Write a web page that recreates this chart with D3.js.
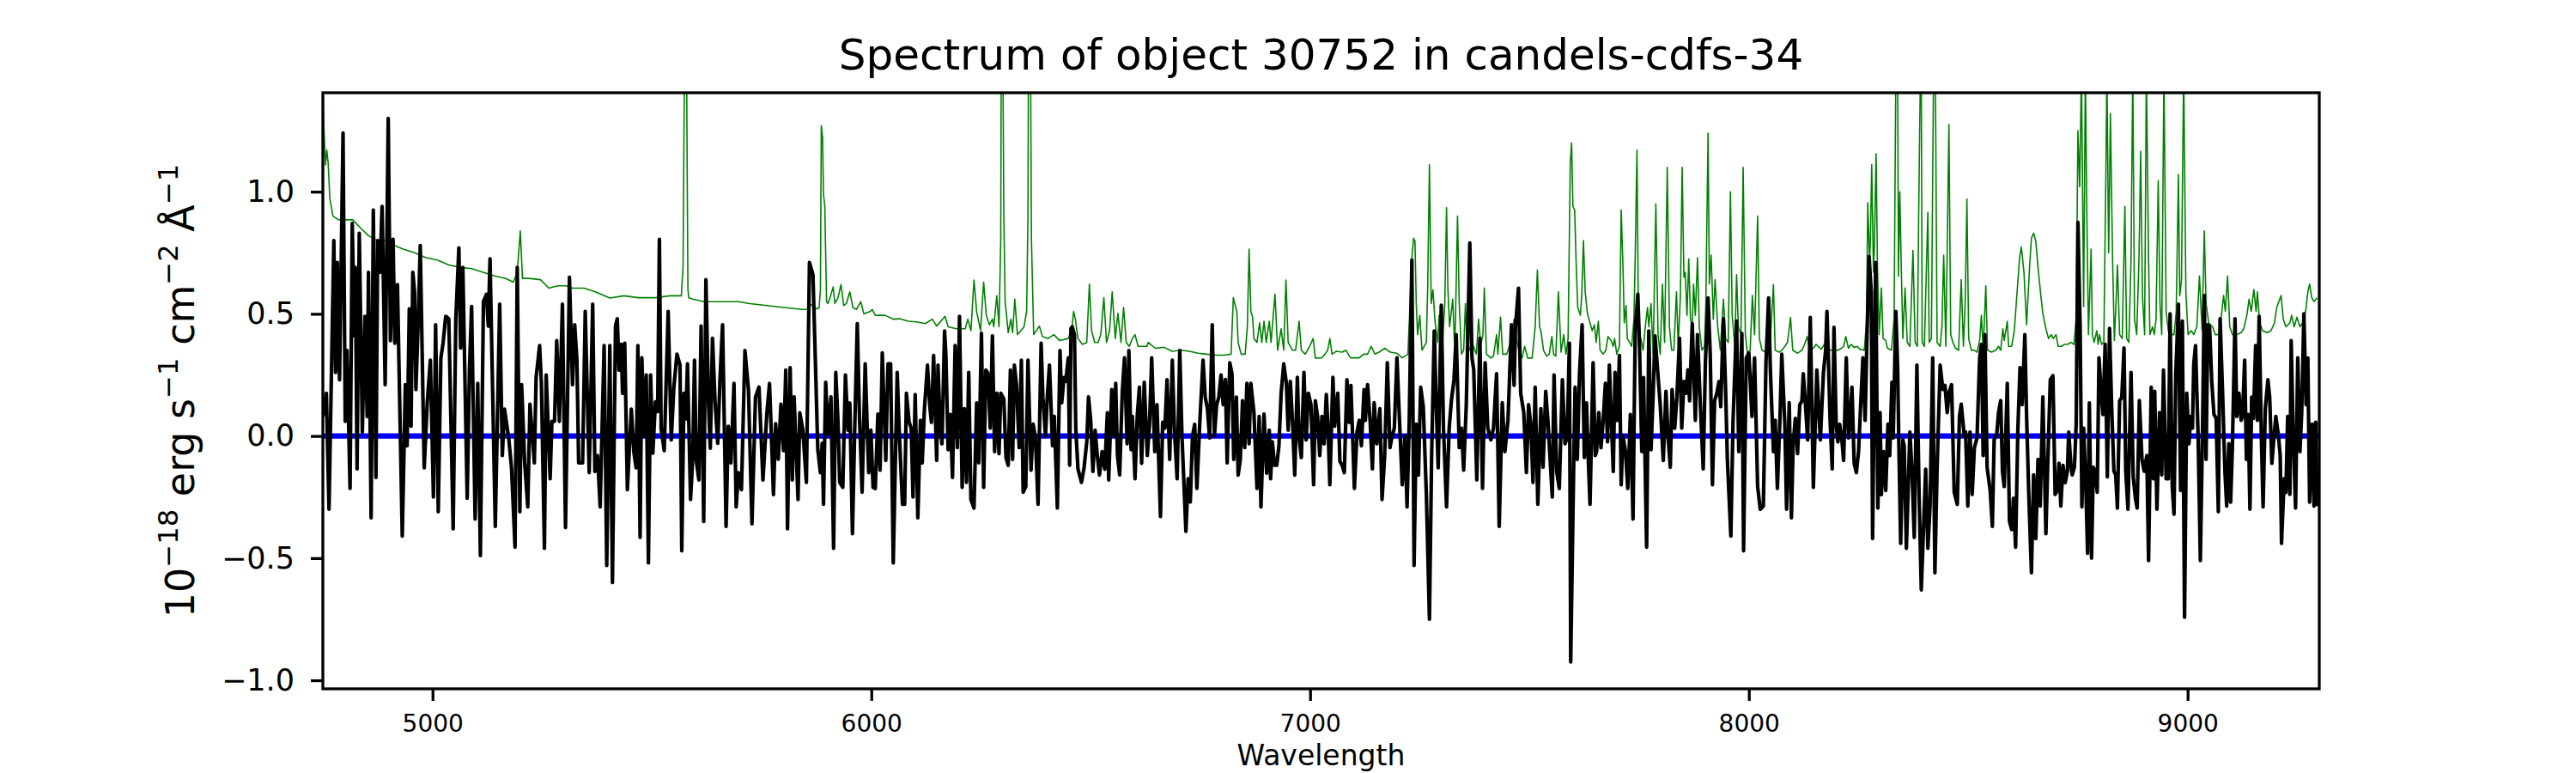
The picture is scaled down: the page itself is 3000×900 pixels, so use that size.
<!DOCTYPE html>
<html><head><meta charset="utf-8">
<script src="https://cdn.jsdelivr.net/npm/d3@7"></script>
<style>html,body{margin:0;padding:0;background:#fff;} svg{display:block;font-family:"DejaVu Sans",sans-serif;}</style>
</head><body><div id="chart"></div>
<script>
// ---------- DATA ----------
const titleText = "Spectrum of object 30752 in candels-cdfs-34";
const xLabelText = "Wavelength";
const yLabelParts = [["10",false],["\u221218",true],[" erg s",false],["\u22121",true],[" cm",false],["\u22122",true],[" \u00C5",false],["\u22121",true]];
const xTicks = [5000, 6000, 7000, 8000, 9000];
const yTicks = [-1.0, -0.5, 0.0, 0.5, 1.0];
const xDomain = [4750, 9300];
const yDomain = [-1.035, 1.405];
const zeroLevel = [[4750, 0], [9300, 0]];

// observed flux [wavelength, flux]
const fluxSeg1 = [[4750,0.08],[4758,0.175],[4764,-0.30],[4775,0.80],[4779,0.26],[4783,0.71],[4788,0.23],[4796,1.24],[4801,0.06],[4805,0.35],
[4812,-0.215],[4817,0.87],[4822,0.41],[4824,0.69],[4828,-0.135],[4833,0.83],[4840,0.016],[4846,0.49],[4851,0.08],[4854,0.67],
[4860,-0.335],[4865,0.925],[4871,-0.17],[4875,0.80],[4880,0.67],[4885,0.94],[4892,0.21],[4899,1.30],[4904,0.39],[4910,0.805],
[4914,0.38],[4920,0.62],[4931,-0.41],[4938,0.21],[4942,-0.04],[4947,0.52],[4951,0.04],[4955,0.67],[4959,0.59],[4962,0.19],
[4967,0.45],[4972,0.78],[4981,-0.13],[4988,0.14],[4995,0.31],[5002,-0.25],[5007,0.455],[5013,-0.31],[5019,0.32],[5024,0.38],
[5030,0.49],[5037,0.48],[5047,-0.38],[5053,0.48],[5060,0.77],[5064,0.36],[5069,0.69],[5079,-0.255],[5084,0.27],[5089,0.53],
[5097,-0.34],[5103,0.215],[5109,-0.49],[5116,0.55],[5123,0.58],[5127,0.45],[5131,0.725],[5143,-0.37],[5153,0.54],[5159,-0.08],
[5164,0.11],[5174,-0.016],[5180,-0.13],[5188,-0.455],[5193,0.69],[5199,-0.31],[5203,0.21],[5210,-0.11],[5217,-0.29],[5222,0.13],
[5232,-0.11],[5236,0.24],[5244,0.37],[5248,0.22],[5255,-0.46],[5259,0.25],[5268,-0.175],[5272,0.06],[5278,0.06],[5283,0.39],
[5289,0.06],[5296,0.54],[5303,-0.375],[5312,0.65]];
const fluxSeg2 = [[5319,0.21],[5324,0.455],[5329,0.31],[5333,-0.11],[5342,-0.11],[5348,0.51],[5357,-0.15],[5365,0.54],[5370,-0.145],[5376,-0.08],
[5382,-0.29],[5391,0.37],[5397,-0.53],[5404,0.37],[5410,-0.60],[5417,0.45],[5421,0.48],[5425,0.27],[5430,0.375],[5433,0.175],
[5438,0.38],[5444,-0.22],[5453,0.11],[5459,-0.07],[5464,-0.13],[5468,0.37],[5473,-0.415],[5477,0.32],[5482,0],[5487,0.25],
[5492,-0.52],[5497,0.25],[5502,-0.07],[5508,0.14],[5513,0.10],[5517,0.805],[5521,0.03],[5528,-0.06],[5537,0.51],[5544,-0.016],
[5550,0.2],[5557,0.335],[5564,0.29],[5568,-0.47],[5573,0.175],[5577,0.07],[5581,0.295],[5588,-0.26],[5593,-0.09],[5597,0.31],
[5601,-0.10],[5607,-0.18],[5612,0.45],[5618,-0.35],[5623,0.64],[5629,0.13],[5633,-0.05],[5638,0.40],[5644,0.135],[5650,-0.03],
[5655,0.23],[5661,0.455],[5669,-0.37],[5674,0.04],[5680,-0.11],[5687,0.215],[5692,-0.29],[5697,-0.15],[5704,-0.22],[5712,0.35],
[5720,0.19],[5728,-0.36],[5736,0.16],[5744,0.2],[5753,-0.18],[5762,0.095],[5768,0.215],[5772,0.016],[5777,-0.24],[5782,0.05],
[5788,-0.095],[5794,0.13],[5800,-0.06],[5805,0.27],[5809,-0.38],[5815,0.28],[5820,-0.18],[5824,0.16],[5833,-0.26],[5837,0.095],
[5844,0.025],[5852,-0.19],[5859,0.71],[5867,0.66],[5872,0.34],[5878,-0.056],[5884,-0.15]];
const fluxSeg3 = [[5888,-0.03],[5891,-0.28],[5896,0.22],[5901,0.008],[5908,0.16],[5914,-0.46],[5919,0.26],[5924,0.06],[5928,-0.19],[5935,-0.21],
[5941,0.25],[5947,0.024],[5951,0.135],[5957,-0.40],[5963,0.096],[5968,0.46],[5973,0.08],[5979,-0.23],[5986,0.295],[5994,-0.15],
[5999,0.024],[6004,-0.21],[6009,-0.215],[6015,0.09],[6020,-0.14],[6025,0.34],[6033,-0.10],[6038,0.295],[6044,0.295],[6050,-0.52],
[6059,0.26],[6064,0],[6071,-0.28],[6076,-0.28],[6080,0.175],[6086,0.06],[6091,0.03],[6095,-0.25],[6100,0.17],[6106,-0.335],
[6112,0.064],[6116,-0.11],[6121,0.11],[6128,0.29],[6133,0.128],[6137,0.056],[6142,0.33],[6149,-0.10],[6152,0.29],[6157,0.032],
[6161,-0.032],[6167,0.43],[6170,0.33],[6175,-0.056],[6180,0.088],[6185,-0.17],[6191,0.37],[6196,-0.048],[6201,0.49],[6207,-0.21],
[6212,0.112],[6217,-0.19],[6222,0.26],[6227,-0.26],[6234,-0.295],[6240,0.135],[6245,-0.11],[6251,0.42],[6256,-0.21],[6261,0.27],
[6266,0.255],[6271,0.032],[6276,0.41],[6281,-0.064],[6286,0.175],[6291,-0.072],[6295,0.175],[6302,0.152],[6307,-0.09],[6312,-0.12],
[6317,0.27],[6322,-0.096],[6326,0.29],[6331,0.207],[6337,-0.048],[6342,0.31],[6346,-0.23],[6352,-0.207],[6357,0.31],[6364,-0.14],
[6369,0.048],[6374,-0.008],[6380,-0.28],[6387,0.38],[6391,0.159],[6397,0],[6401,0.159],[6406,0.29],[6413,-0.04],[6417,0.08],
[6424,-0.295],[6430,0.35],[6434,0.136],[6439,0.239],[6443,0.223],[6449,0.32],[6452,-0.12],[6455,0.44]];
const fluxSeg4 = [[6458,0.447],[6463,0.415],[6466,0.03],[6471,-0.135],[6479,-0.19],[6485,-0.128],[6491,-0.024],[6495,0.16],[6500,0.064],[6505,-0.145],
[6510,0.024],[6515,-0.08],[6520,-0.16],[6526,-0.064],[6532,-0.136],[6538,0.095],[6541,-0.18],[6548,0.19],[6553,0],[6557,0.215],
[6561,-0.08],[6566,-0.159],[6572,0.18],[6577,0.32],[6583,-0.032],[6587,0.35],[6592,-0.056],[6595,0.08],[6601,-0.175],[6606,0.08],
[6611,0.2],[6616,-0.112],[6622,0.22],[6629,-0.08],[6634,0.048],[6639,0.32],[6646,-0.064],[6651,0.128],[6659,-0.33],[6664,0.056],
[6669,0.032],[6674,0.23],[6680,-0.096],[6686,0.31],[6691,0.016],[6697,-0.175],[6703,0.35],[6708,0],[6712,-0.175],[6717,-0.39],
[6722,-0.175],[6727,-0.27],[6732,0],[6737,0.048],[6742,-0.215],[6748,0.032],[6756,0.31],[6761,0.159],[6766,0.112],[6771,-0.008],
[6777,0.455],[6782,0],[6787,0.128],[6792,0.159],[6797,0.25],[6802,0.128],[6807,0.231],[6811,-0.11],[6817,0.30],[6822,0.255],
[6826,-0.096],[6832,0.159],[6836,-0.16],[6841,-0.096],[6846,0.144],[6851,-0.048],[6856,0.215],[6861,-0.032],[6865,0.215],[6872,0.096],
[6879,-0.215],[6884,0.08],[6888,-0.29],[6895,0.09],[6901,-0.152],[6907,0.024],[6910,-0.175],[6914,-0.024],[6919,-0.12],[6924,-0.12],
[6929,-0.04],[6934,0.175],[6940,0.295],[6946,0.215],[6950,0.024],[6955,0.223],[6960,0.056],[6965,-0.16],[6971,0.24],[6975,-0.008],
[6980,-0.088],[6986,0.26],[6991,-0.016],[6996,0.175],[7002,0.128],[7008,-0.2],[7012,0.144],[7017,0.08],[7022,-0.08]];
const fluxSeg5 = [[7027,0.08],[7032,-0.032],[7037,0.17],[7041,0.032],[7045,-0.2],[7052,0.24],[7056,0.04],[7063,0.175],[7068,-0.104],[7073,-0.12],
[7078,-0.15],[7084,0.23],[7089,0.056],[7093,0.207],[7101,-0.215],[7107,0.016],[7112,0.064],[7117,-0.04],[7123,0.19],[7126,0.064],
[7131,0.21],[7137,0.056],[7142,-0.135],[7146,0.136],[7152,-0.032],[7159,0.112],[7164,-0.26],[7170,-0.08],[7176,0.30],[7182,-0.048],
[7187,0],[7192,0.032],[7198,0.32],[7203,0.096],[7210,-0.2],[7216,0],[7221,-0.29],[7226,0.064],[7232,0.72],[7237,-0.53],
[7242,0.048],[7247,-0.16],[7252,0.2],[7258,0.12],[7265,-0.239],[7272,-0.75],[7277,-0.08],[7283,0.43],[7288,0.096],[7292,-0.13],
[7299,0.535],[7304,0.032],[7311,-0.29],[7317,0.032],[7322,0.145],[7328,0.231],[7333,0.415],[7340,-0.048],[7345,0.032],[7350,-0.14],
[7356,0.128],[7364,0.79],[7369,0.319],[7373,0.271],[7380,-0.18],[7387,0.40],[7393,-0.215],[7399,0.30],[7405,0.032],[7412,-0.016],
[7418,0.032],[7425,0.255],[7431,-0.37],[7438,0.136],[7444,-0.064],[7451,0.064],[7459,0.455],[7465,0.207],[7468,0.447],[7475,0.605],
[7480,0.175],[7487,0.096],[7493,-0.15],[7498,0.128],[7503,0.048],[7508,-0.19],[7513,0.2],[7519,-0.28],[7526,0.112],[7531,-0.128],
[7537,0.183],[7542,0.064],[7547,-0.096],[7552,-0.25],[7556,0.25],[7562,-0.144],[7568,-0.215],[7575,0.23],[7581,-0.032],[7586,-0.008],
[7591,0.38],[7594,-0.925]];
const fluxSeg6 = [[7601,-0.096],[7604,0.2],[7609,-0.096],[7614,0.255],[7620,0.455],[7625,-0.088],[7630,0.135],[7634,-0.096],[7638,-0.28],[7645,0.30],
[7650,-0.08],[7653,-0.064],[7658,0.096],[7663,-0.048],[7668,0.064],[7673,0.215],[7678,-0.024],[7682,0.29],[7687,0.048],[7691,-0.145],
[7695,0.26],[7700,0.064],[7705,0.33],[7709,-0.2],[7713,0],[7719,-0.064],[7724,-0.215],[7730,0.088],[7736,-0.34],[7741,0.44],
[7747,0.58],[7751,0.351],[7756,-0.064],[7760,0.239],[7767,-0.455],[7772,0.43],[7777,-0.056],[7782,0.175],[7786,0.41],[7792,0.271],
[7798,0.128],[7805,-0.10],[7811,0.183],[7816,-0.008],[7821,-0.128],[7825,0.19],[7831,0.032],[7836,0.159],[7842,0.40],[7847,0.032],
[7852,0.223],[7857,0.175],[7861,0.271],[7865,0.144],[7871,0.46],[7878,0.064],[7883,0.415],[7889,0.144],[7896,-0.135],[7901,0.303],
[7907,0.565],[7912,0.335],[7917,-0.2],[7922,0.144],[7927,0.175],[7932,0.223],[7936,0.12],[7942,0.48],[7947,0.191],[7951,-0.096],
[7959,-0.41],[7964,0.064],[7972,0.47],[7977,-0.064],[7984,0.42],[7988,-0.47],[7994,0.319],[8000,0.34],[8007,0.08],[8013,0.319],
[8020,-0.207],[8026,-0.30],[8033,-0.287],[8039,0.30],[8045,0.565],[8049,0.271],[8056,-0.064],[8060,0.064],[8065,-0.215],[8071,0.08],
[8075,0.335],[8082,0.048],[8086,-0.30],[8092,0.136],[8097,-0.335],[8101,-0.032],[8106,0.072],[8111,-0.072],[8116,0.128],[8121,0.144],
[8124,0.255],[8129,0.128],[8134,-0.016],[8140,0.485],[8147,-0.21],[8155,0.27],[8160,0.08],[8163,-0.016]];
const fluxSeg7 = [[8165,0.064],[8170,0.26],[8175,0.351],[8178,0.51],[8181,0.335],[8185,0.072],[8190,-0.135],[8194,0.445],[8199,0.048],[8203,-0.024],
[8207,0.048],[8212,-0.016],[8216,-0.10],[8222,0.32],[8227,-0.008],[8230,0.032],[8235,0.2],[8240,-0.112],[8245,-0.15],[8250,-0.064],
[8254,0.096],[8260,0.32],[8265,0.064],[8269,0.39],[8274,0.735],[8279,0.59],[8282,-0.42],[8289,0.71],[8294,-0.295],[8299,0.096],
[8302,-0.24],[8307,-0.064],[8312,-0.223],[8317,0.048],[8321,-0.08],[8326,0.22],[8329,-0.008],[8335,0.51],[8339,0.287],[8342,-0.048],
[8346,-0.44],[8351,-0.016],[8354,-0.04],[8359,-0.46],[8367,0.016],[8372,-0.152],[8377,-0.415],[8383,0.29],[8388,-0.239],[8393,-0.63],
[8398,-0.383],[8403,-0.136],[8408,-0.46],[8413,-0.287],[8419,0.32],[8424,-0.56],[8429,-0.136],[8436,0.29],[8442,0.191],[8447,0.207],
[8452,0.096],[8457,0.183],[8462,0.21],[8468,-0.23],[8475,-0.28],[8480,0.08],[8484,0.13],[8491,0],[8494,0.016],[8499,-0.287],
[8504,0.016],[8509,-0.239],[8514,-0.048],[8520,-0.008],[8526,0.32],[8530,0.375],[8534,-0.08],[8538,0.415],[8543,-0.128],[8550,-0.223],
[8555,-0.37],[8559,-0.016],[8565,0.008],[8569,0.096],[8574,0.145],[8578,-0.144],[8582,-0.207],[8589,0.215],[8594,-0.35],[8599,-0.383],
[8603,-0.255],[8608,-0.455],[8613,0.024],[8618,0.28],[8623,0.128],[8629,0.415],[8633,0.08],[8638,-0.239],[8644,-0.56],[8649,-0.159],
[8654,-0.42],[8659,-0.096],[8664,-0.287],[8670,0.16],[8677,-0.40],[8681,-0.128],[8687,0.23],[8693,0.247],[8698,-0.239],[8703,-0.223],
[8707,-0.112],[8711,-0.287],[8716,-0.12],[8721,-0.191],[8726,-0.144],[8729,0.016],[8734,-0.12]];
const fluxSeg8 = [[8737,-0.159],[8742,-0.128],[8746,0.048],[8750,0.875],[8755,0.447],[8759,-0.29],[8763,0.032],[8768,-0.207],[8772,-0.48],[8776,0.135],
[8781,-0.50],[8785,-0.128],[8789,-0.144],[8794,-0.23],[8798,0.32],[8802,0.207],[8807,0.088],[8812,0.375],[8817,-0.167],[8822,0.44],
[8827,0.112],[8832,-0.144],[8836,-0.159],[8840,-0.295],[8845,0.144],[8850,0.159],[8855,0.36],[8859,-0.144],[8864,-0.30],[8871,0.26],
[8876,-0.167],[8881,-0.255],[8885,-0.295],[8890,0.145],[8896,-0.096],[8901,-0.144],[8907,-0.08],[8911,-0.51],[8917,0.2],[8922,-0.175],
[8925,0.183],[8930,-0.30],[8936,0.096],[8941,-0.159],[8945,0.27],[8951,-0.175],[8956,-0.175],[8960,0.50],[8965,-0.207],[8969,-0.32],
[8973,0.255],[8979,0.54],[8984,-0.223],[8988,0.47],[8993,-0.742],[8998,0.175],[9003,-0.032],[9007,0.08],[9011,0.032],[9014,0.295],
[9018,0.37],[9024,-0.008],[9029,-0.51],[9034,0.032],[9038,0.575],[9042,-0.096],[9046,0.455],[9050,0.447],[9055,0.223],[9060,0.088],
[9065,0.072],[9070,-0.31],[9074,0.48],[9080,0.159],[9085,-0.144],[9089,-0.287],[9094,-0.032],[9098,-0.271],[9102,-0.048],[9108,0.48],
[9112,0.08],[9117,0.175],[9122,0.064],[9125,0.08],[9130,0.31],[9134,-0.096],[9138,0.088],[9142,-0.30],[9146,0.159],[9150,0.072],
[9155,0.37],[9159,0.064],[9163,0.49],[9168,0],[9172,-0.29],[9177,0.112],[9183,0.23],[9187,0.159],[9192,-0.112],[9197,0],
[9201,0.08],[9207,0],[9211,-0.08],[9214,-0.44],[9220,-0.175],[9224,-0.231],[9228,0.08],[9233,-0.239],[9236,0.39],[9241,-0.024],
[9246,-0.295],[9251,0.32],[9256,-0.064],[9260,0.096],[9265,0.50],[9270,0.128],[9274,0.319],[9278,-0.271],[9284,0.048],[9288,-0.287],
[9292,0.056],[9295,-0.287]];

// noise / sky spectrum [wavelength, value]
const skySeg1 = [[4750,1.45],[4752,1.28],[4756,1.11],[4759,1.17],[4762,1.12],[4766,0.97],[4773,0.90],[4786,0.885],[4802,0.885],[4818,0.885],
[4835,0.853],[4854,0.82],[4874,0.80],[4893,0.80],[4913,0.78],[4933,0.765],[4959,0.75],[4985,0.73],[5011,0.72],[5037,0.70],
[5063,0.69],[5089,0.685],[5115,0.67],[5141,0.655],[5167,0.645],[5184,0.63],[5193,0.67],[5200,0.84],[5205,0.645],[5219,0.645],
[5246,0.64],[5265,0.605],[5285,0.615],[5304,0.615]];
const skySeg2 = [[5319,0.605],[5345,0.605],[5371,0.59],[5404,0.565],[5436,0.574],[5469,0.566],[5508,0.566],[5541,0.574],[5567,0.574],[5571,0.70],
[5574,1.5],[5579,1.5],[5582,0.60],[5584,0.566],[5593,0.56],[5619,0.55],[5645,0.55],[5671,0.55],[5697,0.55],[5723,0.542],
[5762,0.534],[5801,0.526],[5841,0.518],[5854,0.518],[5860,0.54],[5876,0.52],[5881,0.525],[5884,0.60],[5886,1.27],[5889,1.22]];
const skySeg3 = [[5891,0.99],[5894,0.94],[5898,0.55],[5901,0.542],[5906,0.566],[5913,0.61],[5917,0.542],[5924,0.566],[5931,0.62],[5937,0.534],
[5943,0.542],[5951,0.59],[5958,0.526],[5966,0.518],[5976,0.55],[5983,0.50],[5998,0.51],[6002,0.518],[6009,0.494],[6031,0.494],
[6051,0.478],[6064,0.48],[6084,0.47],[6103,0.467],[6123,0.46],[6139,0.478],[6149,0.45],[6168,0.49],[6175,0.447],[6194,0.439],
[6214,0.439],[6220,0.478],[6227,0.431],[6234,0.638],[6240,0.51],[6249,0.431],[6256,0.63],[6262,0.494],[6269,0.455],[6276,0.478],
[6279,0.447],[6286,0.574],[6291,0.447],[6295,0.8],[6296,1.5],[6300,1.5],[6302,0.9],[6305,0.55],[6312,0.423],[6318,0.478],
[6322,0.423],[6327,0.56],[6333,0.415],[6341,0.431],[6348,0.447],[6354,0.51],[6357,0.9],[6358,1.5],[6363,1.5],[6365,0.8],
[6370,0.415],[6383,0.45],[6390,0.407],[6403,0.399],[6416,0.415],[6429,0.391],[6449,0.399],[6457,0.44]];
const skySeg4 = [[6461,0.51],[6465,0.478],[6471,0.399],[6481,0.375],[6491,0.383],[6497,0.622],[6502,0.431],[6509,0.383],[6517,0.383],[6523,0.415],
[6530,0.566],[6536,0.383],[6543,0.431],[6549,0.59],[6556,0.399],[6562,0.502],[6569,0.383],[6575,0.526],[6581,0.383],[6588,0.367],
[6595,0.399],[6601,0.415],[6608,0.367],[6628,0.367],[6631,0.383],[6647,0.359],[6667,0.363],[6686,0.347],[6706,0.351],[6725,0.347],
[6745,0.339],[6764,0.335],[6784,0.331],[6804,0.331],[6820,0.335],[6825,0.566],[6833,0.51],[6836,0.383],[6843,0.335],[6852,0.335],
[6857,0.447],[6861,0.765],[6865,0.51],[6869,0.486],[6872,0.399],[6879,0.383],[6885,0.463],[6890,0.383],[6895,0.47],[6900,0.383],
[6907,0.47],[6911,0.383],[6920,0.58],[6926,0.351],[6934,0.439],[6940,0.351],[6945,0.638],[6950,0.383],[6960,0.351],[6967,0.351],
[6975,0.47],[6980,0.351],[6989,0.335],[6999,0.367],[7007,0.399],[7012,0.319],[7027,0.32]];
const skySeg5 = [[7034,0.335],[7040,0.351],[7045,0.399],[7050,0.335],[7060,0.347],[7073,0.343],[7082,0.351],[7092,0.32],[7112,0.32],[7122,0.335],
[7131,0.335],[7139,0.367],[7148,0.335],[7157,0.343],[7170,0.359],[7183,0.343],[7197,0.339],[7210,0.32],[7223,0.335],[7232,0.73],
[7236,0.81],[7239,0.797],[7242,0.542],[7245,0.415],[7250,0.494],[7255,0.351],[7265,0.383],[7268,0.606],[7272,1.11],[7276,0.542],
[7280,0.598],[7285,0.463],[7291,0.383],[7294,0.494],[7301,0.351],[7307,0.542],[7311,0.935],[7314,0.606],[7318,0.447],[7325,0.56],
[7329,0.383],[7331,0.447],[7336,0.90],[7340,0.542],[7345,0.335],[7350,0.351],[7354,0.542],[7358,0.351],[7363,0.351],[7369,0.383],
[7379,0.335],[7384,0.478],[7389,0.375],[7394,0.415],[7397,0.606],[7402,0.335],[7412,0.319],[7418,0.327],[7425,0.415],[7428,0.335],
[7434,0.486],[7439,0.335],[7448,0.335],[7457,0.383],[7465,0.478],[7470,0.399],[7476,0.351],[7483,0.319],[7489,0.367],[7496,0.319],
[7506,0.319],[7513,0.447],[7518,0.68],[7523,0.447],[7526,0.431],[7532,0.351],[7539,0.327],[7545,0.335],[7551,0.407],[7555,0.335],
[7560,0.327],[7566,0.59],[7572,0.343],[7578,0.415],[7583,0.335],[7588,0.399],[7593,1.12],[7596,1.20]];
const skySeg6 = [[7599,0.94],[7603,0.925],[7606,0.73],[7610,0.526],[7616,0.494],[7619,0.574],[7623,0.80],[7627,0.59],[7632,0.502],[7638,0.463],
[7643,0.431],[7648,0.455],[7652,0.383],[7657,0.47],[7661,0.351],[7668,0.335],[7674,0.351],[7679,0.407],[7686,0.391],[7691,0.367],
[7694,0.399],[7699,0.335],[7705,0.367],[7709,0.925],[7713,0.70],[7716,0.463],[7720,0.534],[7723,0.399],[7728,0.383],[7733,0.367],
[7738,0.478],[7741,0.734],[7745,1.17],[7748,0.542],[7752,0.415],[7759,0.351],[7764,0.447],[7769,0.526],[7772,0.447],[7777,0.542],
[7782,0.335],[7788,0.95],[7793,0.415],[7798,0.335],[7803,0.622],[7808,0.383],[7814,1.10],[7819,0.447],[7824,0.351],[7829,0.351],
[7835,0.59],[7839,0.367],[7844,0.574],[7848,1.10],[7852,0.65],[7855,0.67],[7859,0.494],[7863,0.725],[7867,0.478],[7871,0.447],
[7874,0.622],[7878,0.494],[7883,0.73],[7887,0.447],[7893,0.351],[7899,0.367],[7902,0.55],[7907,1.24],[7910,0.622],[7914,0.74],
[7919,0.478],[7923,0.64],[7929,0.447],[7935,0.351],[7942,0.56],[7947,0.399],[7953,0.383],[7958,1.0],[7962,0.494],[7968,0.367],
[7972,0.66],[7976,0.447],[7982,0.415],[7987,1.10],[7992,0.415],[7997,0.335],[8003,0.351],[8008,0.575],[8013,0.415],[8020,0.90],
[8024,0.399],[8030,0.351],[8039,0.343],[8049,0.399],[8056,0.62],[8060,0.351],[8069,0.343],[8075,0.351],[8082,0.367],[8088,0.383],
[8095,0.485],[8100,0.351],[8111,0.339],[8121,0.351],[8127,0.375],[8133,0.407],[8138,0.359],[8147,0.359],[8153,0.375],[8158,0.367],
[8165,0.355]];
const skySeg7 = [[8172,0.375],[8178,0.383],[8185,0.351],[8194,0.351],[8203,0.351],[8211,0.359],[8216,0.367],[8221,0.407],[8227,0.359],[8233,0.375],
[8240,0.363],[8247,0.367],[8253,0.355],[8263,0.351],[8268,0.463],[8271,0.955],[8275,0.718],[8277,0.797],[8280,1.11],[8284,0.67],
[8286,0.766],[8290,1.155],[8293,0.702],[8297,0.415],[8302,0.606],[8306,0.399],[8312,0.391],[8316,0.359],[8325,0.351],[8331,0.478],
[8335,1.5],[8339,1.5],[8341,0.654],[8344,1.0],[8348,0.638],[8351,0.399],[8356,0.606],[8361,0.383],[8367,0.367],[8374,0.76],
[8379,0.383],[8384,0.367],[8387,0.9],[8391,1.5],[8393,1.5],[8395,0.383],[8400,0.367],[8408,0.915],[8411,0.383],[8416,0.399],
[8421,1.5],[8425,1.5],[8429,0.383],[8436,0.367],[8440,0.447],[8444,0.74],[8449,0.367],[8456,1.275],[8460,0.415],[8465,0.383],
[8471,0.359],[8478,0.351],[8484,0.64],[8489,0.367],[8493,0.542],[8497,0.97],[8501,0.399],[8507,0.351],[8514,0.351],[8520,0.343],
[8526,0.391],[8530,0.494],[8534,0.351],[8540,0.615],[8544,0.351],[8553,0.343],[8563,0.351],[8569,0.367],[8574,0.351],[8579,0.439],
[8582,0.391],[8589,0.47],[8592,0.367],[8599,0.367],[8605,0.431],[8612,0.606],[8617,0.73],[8621,0.774],[8627,0.67],[8633,0.455],
[8640,0.70],[8644,0.81],[8649,0.83],[8654,0.797],[8660,0.67],[8666,0.566],[8670,0.502],[8677,0.439],[8683,0.399],[8689,0.415],
[8694,0.399],[8700,0.415],[8705,0.367],[8713,0.367],[8719,0.375],[8726,0.375],[8734,0.383]];
const skySeg8 = [[8741,0.375],[8746,0.478],[8750,1.25],[8754,1.02],[8758,1.5],[8763,0.53],[8767,1.5],[8770,0.95],[8774,0.415],[8780,0.765],
[8783,0.415],[8787,0.383],[8793,0.431],[8796,0.375],[8799,0.415],[8804,0.375],[8809,0.383],[8814,1.12],[8816,1.5],[8820,0.75],
[8824,1.32],[8829,0.72],[8833,0.391],[8836,0.51],[8840,0.70],[8845,0.415],[8851,0.399],[8857,0.94],[8861,0.399],[8866,0.383],
[8871,0.718],[8875,1.5],[8879,0.478],[8884,0.415],[8889,0.718],[8893,1.165],[8897,0.574],[8902,0.415],[8906,1.5],[8911,0.718],
[8914,0.415],[8920,0.447],[8924,0.415],[8928,0.478],[8933,1.045],[8937,0.542],[8941,0.415],[8946,1.5],[8951,0.51],[8956,0.431],
[8961,0.415],[8969,0.415],[8974,0.51],[8979,1.07],[8982,0.574],[8986,0.638],[8991,1.5],[8996,0.59],[9001,0.415],[9008,0.431],
[9014,0.415],[9021,0.447],[9027,0.655],[9033,0.431],[9038,0.84],[9042,0.542],[9048,0.463],[9057,0.447],[9063,0.415],[9070,0.415],
[9076,0.478],[9082,0.575],[9086,0.51],[9091,0.655],[9096,0.447],[9102,0.415],[9112,0.415],[9122,0.423],[9128,0.439],[9135,0.494],
[9140,0.56],[9145,0.51],[9151,0.60],[9156,0.51],[9159,0.59],[9164,0.463],[9171,0.431],[9181,0.423],[9190,0.431],[9198,0.463],
[9203,0.526],[9213,0.575],[9218,0.478],[9224,0.447],[9233,0.463],[9237,0.494],[9243,0.447],[9249,0.486],[9256,0.447],[9262,0.463],
[9269,0.51],[9274,0.59],[9278,0.622],[9283,0.566],[9288,0.55],[9295,0.566]];

// ---------- CHART ----------
const flux = [].concat(fluxSeg1, fluxSeg2, fluxSeg3, fluxSeg4, fluxSeg5, fluxSeg6, fluxSeg7, fluxSeg8);
const sky = [].concat(skySeg1, skySeg2, skySeg3, skySeg4, skySeg5, skySeg6, skySeg7, skySeg8);

const W = 3000, H = 900;
const plot = {left: 376, right: 2701, top: 108, bottom: 802};
const font = '"DejaVu Sans", sans-serif';

const svg = d3.select("#chart").append("svg").attr("width", W).attr("height", H)
  .attr("viewBox", `0 0 ${W} ${H}`);
svg.append("rect").attr("width", W).attr("height", H).attr("fill", "#fff");

const x = d3.scaleLinear().domain(xDomain).range([plot.left, plot.right]);
const y = d3.scaleLinear().domain(yDomain).range([plot.bottom, plot.top]);

svg.append("clipPath").attr("id", "clip").append("rect")
  .attr("x", plot.left).attr("y", plot.top)
  .attr("width", plot.right - plot.left).attr("height", plot.bottom - plot.top);

const line = d3.line().x(d => x(d[0])).y(d => y(d[1]));
const g = svg.append("g").attr("clip-path", "url(#clip)");

g.append("path").datum(sky).attr("d", line)
  .attr("fill", "none").attr("stroke", "#008000").attr("stroke-width", 1.6).attr("stroke-linejoin", "round");
g.append("path").datum(zeroLevel).attr("d", line)
  .attr("fill", "none").attr("stroke", "#0000ff").attr("stroke-width", 6.2);
g.append("path").datum(flux).attr("d", line)
  .attr("fill", "none").attr("stroke", "#000").attr("stroke-width", 4.2).attr("stroke-linejoin", "round");

// axes
const xAxis = d3.axisBottom(x).tickValues(xTicks).tickFormat(d3.format("d")).tickSize(14).tickPadding(16);
const yAxis = d3.axisLeft(y).tickValues(yTicks).tickFormat(d => d3.format(".1f")(d).replace("-", "\u2212")).tickSize(14).tickPadding(19);

const gx = svg.append("g").attr("transform", `translate(0,${plot.bottom})`).call(xAxis);
const gy = svg.append("g").attr("transform", `translate(${plot.left},0)`).call(yAxis);
[gx, gy].forEach(a => {
  a.select(".domain").remove();
  a.selectAll(".tick line").attr("stroke", "#000").attr("stroke-width", 3.3);
  a.selectAll(".tick text").attr("fill", "#000").attr("font-family", font);
});
gx.selectAll(".tick text").attr("font-size", 28);
gy.selectAll(".tick text").attr("font-size", 35);

// frame
svg.append("rect").attr("x", plot.left).attr("y", plot.top)
  .attr("width", plot.right - plot.left).attr("height", plot.bottom - plot.top)
  .attr("fill", "none").attr("stroke", "#000").attr("stroke-width", 3.3);

// title
svg.append("text").attr("x", (plot.left + plot.right) / 2).attr("y", 81)
  .attr("text-anchor", "middle").attr("font-family", font).attr("font-size", 50).attr("fill", "#000")
  .text(titleText);

// x label
svg.append("text").attr("x", (plot.left + plot.right) / 2).attr("y", 891)
  .attr("text-anchor", "middle").attr("font-family", font).attr("font-size", 33).attr("fill", "#000")
  .text(xLabelText);

// y label with superscripts
const ylFs = 46, supShift = ylFs * 0.42;
const yl = svg.append("text")
  .attr("transform", `translate(226,${(plot.top + plot.bottom) / 2}) rotate(-90)`)
  .attr("text-anchor", "middle").attr("font-family", font).attr("font-size", ylFs).attr("fill", "#000");
let raised = false;
yLabelParts.forEach(([txt, sup]) => {
  const t = yl.append("tspan").text(txt);
  if (sup && !raised) { t.attr("dy", -supShift).attr("font-size", ylFs * 0.7); raised = true; }
  else if (sup) { t.attr("font-size", ylFs * 0.7); }
  else if (!sup && raised) { t.attr("dy", supShift); raised = false; }
});
</script>
</body></html>
